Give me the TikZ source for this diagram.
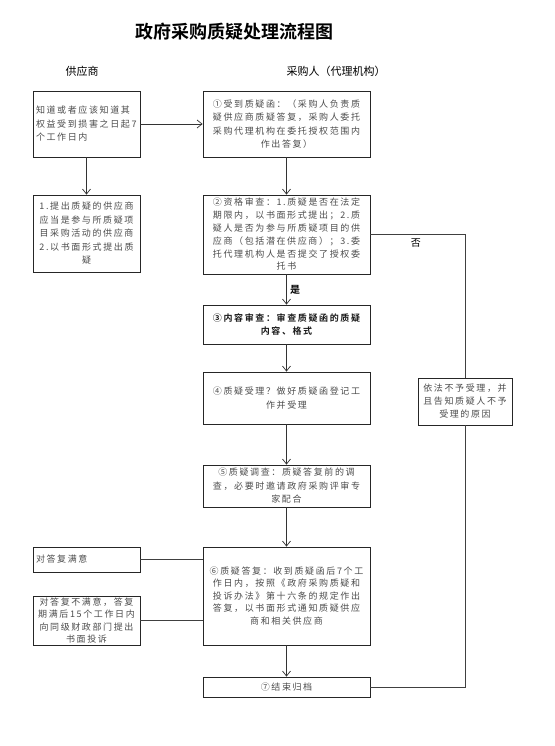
\documentclass[tikz,border=0pt]{standalone}
\usepackage{fontspec}
\setmainfont{Noto Sans CJK SC}[BoldFont={Noto Sans CJK SC Bold}]
\newfontfamily\boxfont[LetterSpace=18,BoldFont={Noto Sans CJK SC Bold}]{Noto Sans CJK SC}
\usetikzlibrary{arrows.meta,positioning}

\begin{document}
\begin{tikzpicture}[x=1pt,y=-1pt,>={Straight Barb[length=5pt,width=8pt]},
box/.style={draw=black!85,line width=0.8pt,align=center,font=\boxfont\fontsize{9}{13.5}\selectfont,text=black!70,inner sep=3pt},
mainbox/.style={box,minimum width=167pt,text width=161pt},
sidebox/.style={box,minimum width=107pt,text width=101pt},
head/.style={font=\fontsize{11}{13}\selectfont},
arrow/.style={->,line width=0.7pt,draw=black!80},
link/.style={line width=0.7pt,draw=black!75}]
\fill[white] (0,0) rectangle (554,746);
\useasboundingbox (0,0) rectangle (554,746);
\node[font=\bfseries\fontsize{18}{20}\selectfont] (title) at (234,32) {政府采购质疑处理流程图};
\node[head] (supplier) at (82,71) {供应商};
\node[head] (buyer) at (336,71) {采购人（代理机构）};
% supplier side
\node[sidebox,minimum height=66pt,align=left] (term) at (86.5,124) {知道或者应该知道其\\权益受到损害之日起7\\个工作日内};
\node[sidebox,minimum height=77pt] (who) at (86.5,233.5) {1.提出质疑的供应商\\应当是参与所质疑项\\目采购活动的供应商\\2.以书面形式提出质\\疑};
\node[sidebox,minimum height=25pt,align=left] (ok) at (86.5,559.5) {对答复满意};
\node[sidebox,minimum height=49pt,inner ysep=1pt,font=\boxfont\fontsize{9}{12.5}\selectfont] (notok) at (86.5,620.5) {对答复不满意，答复\\期满后15个工作日内\\向同级财政部门提出\\书面投诉};
% buyer side
\node[mainbox,minimum height=66pt] (q1) at (286.5,124) {①受到质疑函：（采购人负责质\\疑供应商质疑答复，采购人委托\\采购代理机构在委托授权范围内\\作出答复）};
\node[mainbox,minimum height=79pt,inner ysep=1pt,font=\boxfont\fontsize{9}{12.8}\selectfont] (q2) at (286.5,234.5) {②资格审查：1.质疑是否在法定\\期限内，以书面形式提出；2.质\\疑人是否为参与所质疑项目的供\\应商（包括潜在供应商）；3.委\\托代理机构人是否提交了授权委\\托书};
\node[mainbox,minimum height=39pt,text=black!90,font=\boxfont\bfseries\fontsize{9}{12.5}\selectfont] (q3) at (286.5,324.5) {③内容审查：审查质疑函的质疑\\内容、格式};
\node[mainbox,minimum height=52pt] (q4) at (286.5,398) {④质疑受理？做好质疑函登记工\\作并受理};
\node[mainbox,minimum height=42pt] (q5) at (286.5,486) {⑤质疑调查：质疑答复前的调\\查，必要时邀请政府采购评审专\\家配合};
\node[mainbox,minimum height=98pt,font=\boxfont\fontsize{9}{12.5}\selectfont] (q6) at (286.5,596) {⑥质疑答复：收到质疑函后7个工\\作日内，按照《政府采购质疑和\\投诉办法》第十六条的规定作出\\答复，以书面形式通知质疑供应\\商和相关供应商};
\node[mainbox,minimum height=20pt] (q7) at (286.5,687) {⑦结束归档};
\node[box,minimum width=94pt,text width=88pt,minimum height=47pt,font=\boxfont\fontsize{9}{13}\selectfont] (refuse) at (465,401.5) {依法不予受理，并\\且告知质疑人不予\\受理的原因};
% connectors
\draw[arrow] (term)--(q1); \draw[arrow] (term)--(who); \draw[arrow] (q1)--(q2);
\draw[arrow] (q2)--node[right,font=\bfseries\fontsize{10}{12}\selectfont]{是}(q3);
\draw[arrow] (q3)--(q4); \draw[arrow] (q4)--(q5); \draw[arrow] (q5)--(q6); \draw[arrow] (q6)--(q7);
\draw[link] (q2.east)-|node[below,pos=0.24,font=\fontsize{10}{12}\selectfont]{否}(refuse.north);
\draw[link] (refuse.south)|-(q7.east);
\draw[link] (ok.east)--(ok.east-|q6.west); \draw[link] (notok.east)--(notok.east-|q6.west);
\end{tikzpicture}
\end{document}
